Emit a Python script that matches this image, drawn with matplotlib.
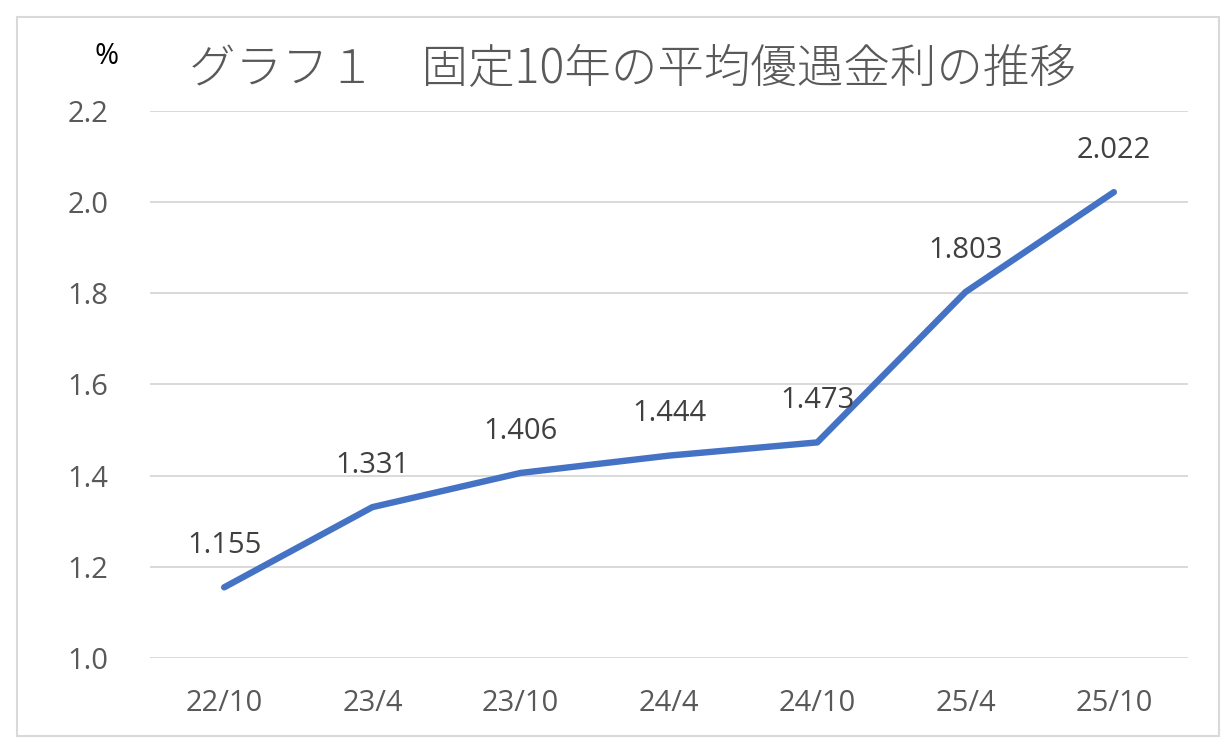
import matplotlib
matplotlib.use("Agg")
import matplotlib.pyplot as plt
from matplotlib.patches import Rectangle

categories = ["22/10", "23/4", "23/10", "24/4", "24/10", "25/4", "25/10"]
rates = [1.155, 1.331, 1.406, 1.444, 1.473, 1.803, 2.022]
y_ticks = [1.0, 1.2, 1.4, 1.6, 1.8, 2.0, 2.2]
title = "グラフ１　固定10年の平均優遇金利の推移"

plt.rcParams['font.family'] = ['Open Sans', 'Noto Sans CJK JP', 'DejaVu Sans']

W, H = 1225, 743
fig = plt.figure(figsize=(W / 100, H / 100), dpi=100)
ax = fig.add_axes([150 / W, 1 - 658 / H, (1188 - 150) / W, (658 - 111) / H])

x = list(range(len(categories)))
ax.plot(x, rates, color="#4472C4", linewidth=4.6, solid_capstyle="round", solid_joinstyle="round", zorder=3)

for xi, v in zip(x, rates):
    ax.annotate(f"{v:.3f}", (xi, v), xytext=(0, 30), textcoords="offset points",
                ha="center", va="center", fontsize=21, color="#404040", zorder=4)

ax.set_xlim(-0.5, len(categories) - 0.5)
ax.set_ylim(1.0, 2.2)
ax.set_yticks(y_ticks)
ax.set_yticklabels([f"{t:.1f}" for t in y_ticks])
ax.set_xticks(x)
ax.set_xticklabels(categories)
ax.grid(axis="y", color="#D9D9D9", linewidth=1.4, zorder=0)
ax.set_axisbelow(True)
for s in ax.spines.values():
    s.set_visible(False)
ax.tick_params(axis="both", length=0, labelsize=21, labelcolor="#595959")
ax.tick_params(axis="y", pad=30)
ax.tick_params(axis="x", pad=22)

fig.text(632 / W, 1 - 70 / H, title, ha="center", va="center", fontsize=33.5,
         color="#595959", family=["Noto Sans CJK JP", "DejaVu Sans"], fontweight="light")
fig.text(107 / W, 1 - 57 / H, "%", ha="center", va="center", fontsize=21, color="#000000")

fig.patches.append(Rectangle((17 / W, 1 - 736 / H), (1219 - 17) / W, (736 - 17) / H,
                             transform=fig.transFigure, fill=False, edgecolor="#D9D9D9", linewidth=1.5))

fig.savefig("out.png", dpi=100)
